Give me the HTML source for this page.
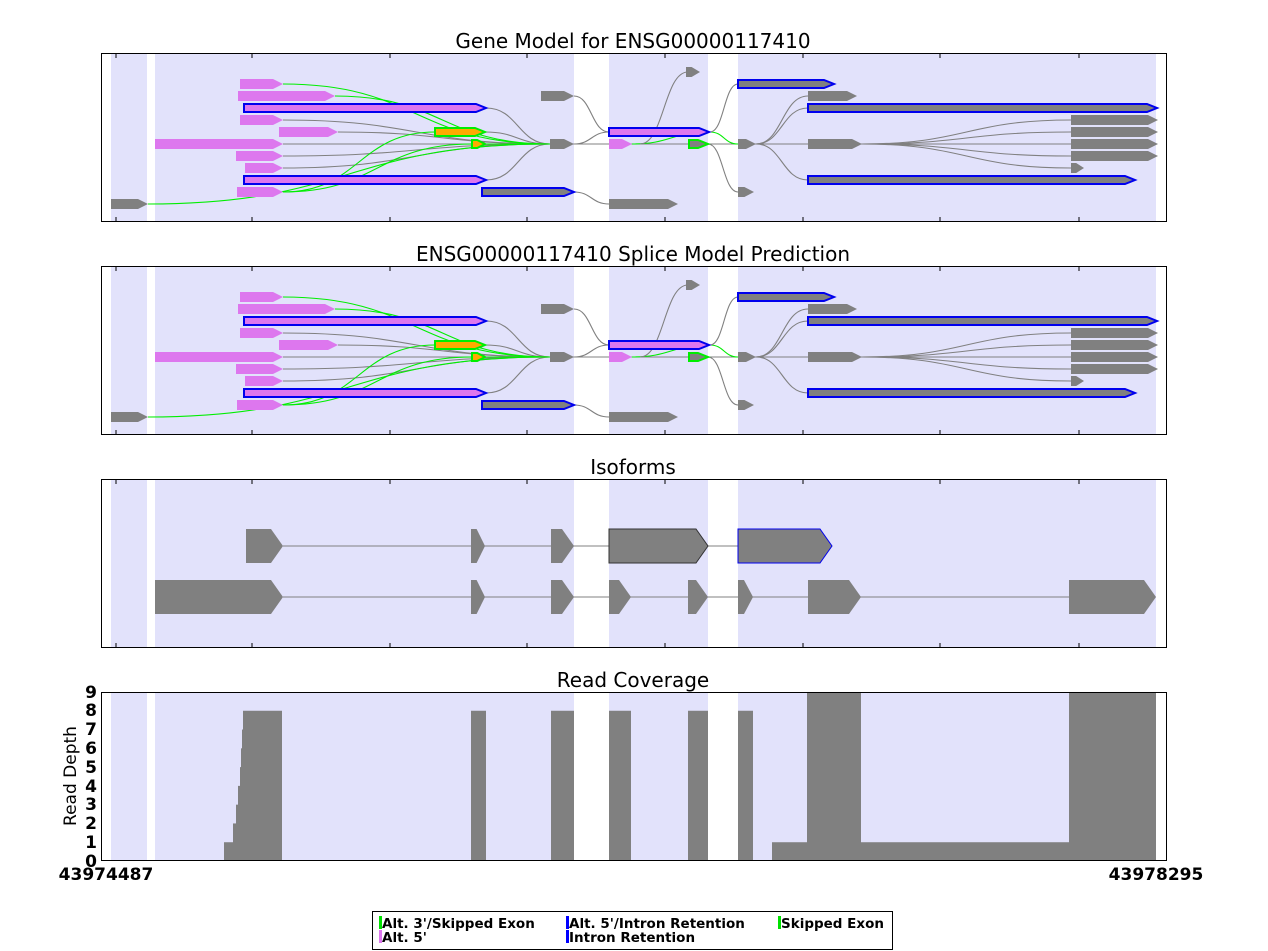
<!DOCTYPE html>
<html><head><meta charset="utf-8"><style>
body{margin:0;background:#fff;width:1268px;height:951px;overflow:hidden;font-family:"DejaVu Sans","Liberation Sans",sans-serif}
svg{position:absolute;left:0;top:0}
</style></head><body>
<svg id="s" width="1268" height="951" xmlns="http://www.w3.org/2000/svg">
<defs><g id="gm"></g></defs>
<g id="bg"></g>
<use href="#gm"/>
<use href="#gm" transform="translate(0,213)"/>
<g id="iso"></g>
<g id="cov"></g>
<g id="frames"></g>
<g font-size="20" text-anchor="middle" fill="#000">
<text x="633" y="48">Gene Model for ENSG00000117410</text>
<text x="633" y="261">ENSG00000117410 Splice Model Prediction</text>
<text x="633" y="474">Isoforms</text>
<text x="633" y="687">Read Coverage</text>
</g>
<g font-size="17" font-weight="bold" text-anchor="end">
<text x="97" y="867">0</text><text x="97" y="848">1</text><text x="97" y="829">2</text><text x="97" y="810">3</text><text x="97" y="792">4</text><text x="97" y="773">5</text><text x="97" y="754">6</text><text x="97" y="735">7</text><text x="97" y="716">8</text><text x="97" y="698">9</text>
</g>
<text x="76" y="776" font-size="17" text-anchor="middle" transform="rotate(-90 76 776)">Read Depth</text>
<g font-size="17" font-weight="bold" text-anchor="middle">
<text x="106" y="880">43974487</text><text x="1156" y="880">43978295</text>
</g>
<rect x="372.5" y="911.5" width="520" height="38" fill="#fff" stroke="#000"/>
<g font-size="13.5" font-weight="bold">
<rect x="379" y="916" width="3" height="13" fill="#00e000"/><text x="382" y="928">Alt. 3'/Skipped Exon</text>
<rect x="379" y="930" width="3" height="13" fill="#dd77ee"/><text x="382" y="942">Alt. 5'</text>
<rect x="566" y="916" width="3" height="13" fill="#0000ff"/><text x="569" y="928">Alt. 5'/Intron Retention</text>
<rect x="566" y="930" width="3" height="13" fill="#0000ff"/><text x="569" y="942">Intron Retention</text>
<rect x="778" y="916" width="3" height="13" fill="#00e000"/><text x="781" y="928">Skipped Exon</text>
</g>
</svg>
<script>
const NS="http://www.w3.org/2000/svg";
function el(p,t,a){const e=document.createElementNS(NS,t);for(const k in a)e.setAttribute(k,a[k]);p.appendChild(e);return e;}
const panels=[53,266,479,692];
const bg=document.getElementById('bg'),fr=document.getElementById('frames');
const regs=[[111,147],[155,574],[609,708],[738,1156]];
panels.forEach(t=>{
 regs.forEach(r=>el(bg,'rect',{x:r[0],y:t,width:r[1]-r[0],height:169,fill:'#e2e2fb'}));
 el(fr,'rect',{x:101.5,y:t+.5,width:1065,height:168,fill:'none',stroke:'#000','stroke-width':1});
 if(t<692){[116,252,390,527,665,803,940,1079].forEach(x=>{
  el(fr,'line',{x1:x,x2:x,y1:t,y2:t+5,stroke:'#000'});
  el(fr,'line',{x1:x,x2:x,y1:t+169,y2:t+164,stroke:'#000'});});}
});
const gm=document.getElementById('gm');
const G='#808080',P='#dd77ee',O='#ffaa00',GR='#00ee00',B='#0000ee';
function curve(x1,y1,x2,y2,c){const m=(x1+x2)/2;el(gm,'path',{d:`M${x1},${y1} C${m},${y1} ${m},${y2} ${x2},${y2}`,fill:'none',stroke:c,'stroke-width':1.1});}
function arrow(p,x1,x2,y,f,s,h){h=h||10;const hd=Math.min(10,(x2-x1)*0.6);
 const a={points:`${x1},${y-h/2} ${x2-hd},${y-h/2} ${x2},${y} ${x2-hd},${y+h/2} ${x1},${y+h/2}`,fill:f};
 if(s){a.stroke=s;a['stroke-width']=2;}el(p,'polygon',a);}
el(gm,'line',{x1:550,y1:144,x2:1071,y2:144,stroke:G,'stroke-width':1.1});
[[283,120],[338,132],[283,144],[283,156],[283,168],[486,108],[486,180],[485,132]].forEach(p=>curve(p[0],p[1],550,144,G));
[[148,204],[283,84],[335,96],[485,144]].forEach(p=>curve(p[0],p[1],550,144,GR));
curve(283,192,435,132,GR);curve(283,192,472,144,GR);
curve(574,192,609,204,G);curve(574,96,609,132,G);curve(574,144,609,132,G);
curve(632,144,710,132,GR);curve(710,132,738,144,GR);curve(640,144,688,72,G);
curve(710,132,738,84,G);curve(708,144,738,192,G);
[96,108,180].forEach(y=>curve(756,144,808,y,G));
[120,132,156,168].forEach(y=>curve(862,144,1071,y,G));
[[240,283,84],[238,335,96],[240,283,120],[279,338,132],[155,283,144],[236,283,156],[245,283,168],[237,283,192]].forEach(a=>arrow(gm,a[0],a[1],a[2],P,null,10));
arrow(gm,244,486,108,P,B,8);arrow(gm,244,486,180,P,B,8);
arrow(gm,111,148,204,G);arrow(gm,435,485,132,O,GR,8);arrow(gm,472,485,144,O,GR,8);
arrow(gm,482,574,192,G,B,8);arrow(gm,541,574,96,G);arrow(gm,550,574,144,G);
arrow(gm,686,700,72,G);arrow(gm,738,834,84,G,B,8);arrow(gm,808,857,96,G);arrow(gm,808,1157,108,G,B,8);
[120,132,144,156].forEach(y=>arrow(gm,1071,1158,y,G));arrow(gm,1071,1084,168,G);
arrow(gm,808,1135,180,G,B,8);arrow(gm,738,754,192,G);arrow(gm,609,678,204,G);
arrow(gm,609,709,132,P,B,8);arrow(gm,609,632,144,P);arrow(gm,689,708,144,G,GR,8);
arrow(gm,738,756,144,G);arrow(gm,808,862,144,G);
const iso=document.getElementById('iso');
function isoArrow(x1,x2,y,s){const hd=Math.min(12,(x2-x1)*0.6);
 const a={points:`${x1},${y-17} ${x2-hd},${y-17} ${x2},${y} ${x2-hd},${y+17} ${x1},${y+17}`,fill:G};
 if(s){a.stroke=s;a['stroke-width']=1;}el(iso,'polygon',a);}
el(iso,'line',{x1:283,x2:738,y1:546,y2:546,stroke:G});
el(iso,'line',{x1:283,x2:1069,y1:597,y2:597,stroke:G});
[[246,283],[471,485],[551,574]].forEach(a=>isoArrow(a[0],a[1],546));
isoArrow(609,708,546,'#333');isoArrow(738,832,546,B);
[[155,283],[471,485],[551,574],[609,631],[688,708],[738,753],[808,861],[1069,1156]].forEach(a=>isoArrow(a[0],a[1],597));
const cov=document.getElementById('cov');const u=18.78,b=861;
function bar(x1,x2,v){el(cov,'rect',{x:x1,y:b-v*u,width:x2-x1,height:v*u,fill:G});}
bar(224,234,1);bar(233,237,2);bar(236,239,3);bar(238,241,4);bar(240,242,5);bar(241,243,6);bar(242,244,7);bar(243,282,8);
[[471,486],[551,574],[609,631],[688,708],[738,753]].forEach(a=>bar(a[0],a[1],8));
bar(772,807,1);bar(807,861,9);bar(861,1069,1);bar(1069,1156,9);
</script>
</body></html>
